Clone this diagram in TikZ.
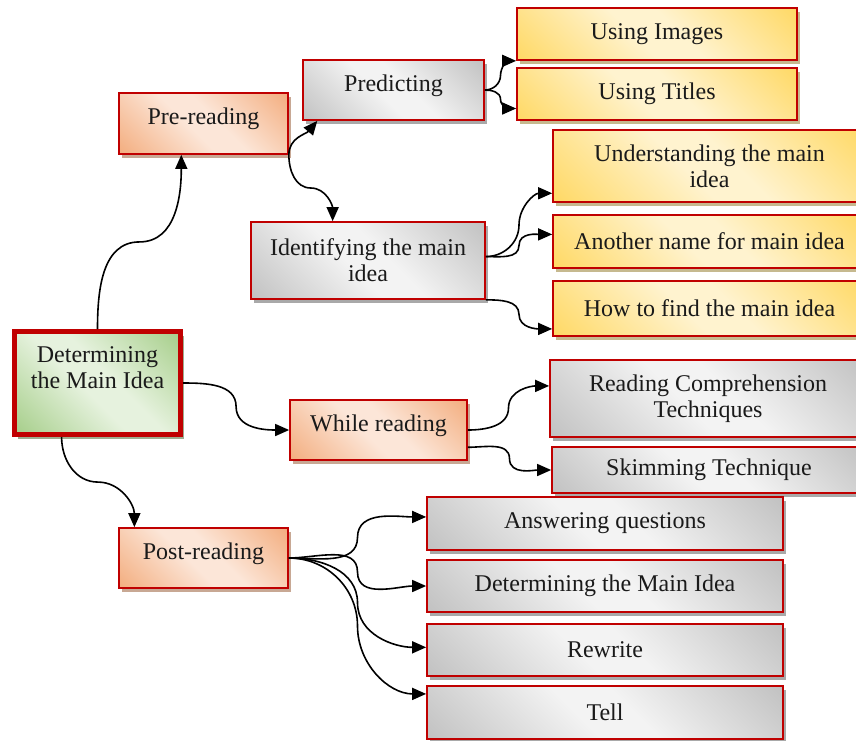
\documentclass[tikz,border=0pt]{standalone}
\usepackage{fontspec}
\setmainfont{Liberation Serif}
\usetikzlibrary{shadows,arrows.meta,calc}
\definecolor{bred}{HTML}{C00000}
\definecolor{txt}{HTML}{1A1A1A}
\definecolor{gdk}{HTML}{C2C2C2}
\definecolor{glt}{HTML}{F3F3F3}
\definecolor{ydk}{HTML}{FFD966}
\definecolor{ylt}{HTML}{FFF3CF}
\definecolor{odk}{HTML}{F3AE80}
\definecolor{olt}{HTML}{FCE6D8}
\definecolor{vdk}{HTML}{A6CE8A}
\definecolor{vlt}{HTML}{E6F2DE}
\definecolor{shg}{HTML}{A9A9A9}
\definecolor{shy}{HTML}{C6B98F}
\definecolor{sho}{HTML}{C8A894}
\definecolor{shv}{HTML}{9EAD90}
\pgfdeclarehorizontalshading{grayshade}{100bp}{color(0bp)=(gdk); color(15bp)=(gdk); color(45bp)=(glt); color(55bp)=(glt); color(85bp)=(gdk); color(100bp)=(gdk)}
\pgfdeclarehorizontalshading{yellowshade}{100bp}{color(0bp)=(ydk); color(15bp)=(ydk); color(45bp)=(ylt); color(55bp)=(ylt); color(85bp)=(ydk); color(100bp)=(ydk)}
\pgfdeclarehorizontalshading{orangeshade}{100bp}{color(0bp)=(odk); color(15bp)=(odk); color(45bp)=(olt); color(55bp)=(olt); color(85bp)=(odk); color(100bp)=(odk)}
\pgfdeclarehorizontalshading{greenshade}{100bp}{color(0bp)=(vdk); color(15bp)=(vdk); color(45bp)=(vlt); color(55bp)=(vlt); color(85bp)=(vdk); color(100bp)=(vdk)}
\tikzset{
  box/.style={draw=bred, line width=1.7pt, rectangle, shading angle=45, text=txt,
    font=\fontsize{24}{26}\selectfont, align=center, inner sep=2pt},
  one/.style={text height=0.72em, text depth=0.45em},
  gbox/.style={box, shading=grayshade, drop shadow={shadow xshift=3pt, shadow yshift=-4pt, fill=shg, opacity=1}},
  ybox/.style={box, shading=yellowshade, drop shadow={shadow xshift=3pt, shadow yshift=-4pt, fill=shy, opacity=1}},
  obox/.style={box, shading=orangeshade, drop shadow={shadow xshift=3pt, shadow yshift=-4pt, fill=sho, opacity=1}},
  mbox/.style={box, line width=5pt, shading=greenshade, drop shadow={shadow xshift=3pt, shadow yshift=-4pt, fill=shv, opacity=1}},
  conn/.style={line width=1.6pt, draw=black, -{Triangle[length=14pt,width=12pt]}}
}
\begin{document}
\begin{tikzpicture}[x=1pt,y=-1pt]
\useasboundingbox (0,0) rectangle (856,740);
% nodes
\node[mbox, minimum width=166pt, minimum height=103pt] (main) at (97.5,383) {\raisebox{6pt}[0pt][0pt]{\begin{tabular}{@{}c@{}}Determining\\the Main Idea\end{tabular}}};
\node[obox, one, minimum width=169pt, minimum height=61pt] (pre) at (203.5,123.5) {Pre-reading};
\node[gbox, one, minimum width=181pt, minimum height=60pt] (pred) at (393.5,90) {Predicting};
\node[ybox, minimum width=280pt, minimum height=52pt] (img) at (657,34) {Using Images};
\node[ybox, minimum width=280pt, minimum height=52pt] (tit) at (657,94) {Using Titles};
\node[gbox, minimum width=234pt, minimum height=77pt] (ident) at (368,260.5) {Identifying the main\\idea};
\node[ybox, minimum width=313pt, minimum height=72pt] (und) at (709.5,166) {Understanding the main\\idea};
\node[ybox, minimum width=313pt, minimum height=53pt] (ano) at (709.5,241.5) {Another name for main idea};
\node[ybox, minimum width=313pt, minimum height=55pt] (how) at (709.5,308.5) {How to find the main idea};
\node[obox, one, minimum width=177pt, minimum height=60pt] (while) at (378.5,430) {While reading};
\node[gbox, minimum width=316pt, minimum height=77pt] (rct) at (708,398.5) {Reading Comprehension\\Techniques};
\node[gbox, minimum width=314pt, minimum height=46pt] (skim) at (709,470) {Skimming Technique};
\node[obox, one, minimum width=169pt, minimum height=60pt] (post) at (203.5,558) {Post-reading};
\node[gbox, minimum width=356pt, minimum height=53pt] (ans) at (605,523.5) {Answering questions};
\node[gbox, minimum width=356pt, minimum height=52pt] (det) at (605,586) {Determining the Main Idea};
\node[gbox, minimum width=356pt, minimum height=52pt] (rew) at (605,650) {Rewrite};
\node[gbox, minimum width=356pt, minimum height=53pt] (tell) at (605,712.5) {Tell};
% connection points
\coordinate (mainS) at ($(main.south west)!0.29!(main.south east)$);
\coordinate (preB) at ($(pre.south west)!0.37!(pre.south east)$);
\coordinate (postN) at ($(post.north west)!0.095!(post.north east)$);
\coordinate (predB) at ($(pred.south west)!0.05!(pred.south east)$);
\coordinate (identN) at ($(ident.north west)!0.35!(ident.north east)$);
\coordinate (titW) at ($(tit.north west)!0.77!(tit.south west)$);
\coordinate (identE) at ($(ident.north east)!0.45!(ident.south east)$);
\coordinate (undW) at ($(und.north west)!0.87!(und.south west)$);
\coordinate (anoW) at ($(ano.north west)!0.37!(ano.south west)$);
\coordinate (howW) at ($(how.north west)!0.86!(how.south west)$);
\coordinate (whileE2) at ($(while.north east)!0.78!(while.south east)$);
\coordinate (rctW) at ($(rct.north west)!0.34!(rct.south west)$);
\coordinate (ansW) at ($(ans.north west)!0.38!(ans.south west)$);
\coordinate (rewW) at ($(rew.north west)!0.45!(rew.south west)$);
\coordinate (tellW) at ($(tell.north west)!0.16!(tell.south west)$);
% connectors
\draw[conn] (main.north) to[out=90,in=180] ($(main.north)!0.5!(preB)$) to[out=0,in=-90] (preB);
\draw[conn] (main.east) to[out=0,in=90] ($(main.east)!0.5!(while.west)$) to[out=-90,in=180] (while.west);
\draw[conn] (mainS) to[out=-90,in=180] ($(mainS)!0.5!(postN)$) to[out=0,in=90] (postN);
\draw[conn] (pre.south east) to[out=90,in=-130] ($(predB)+(6,0)$);
\draw[conn] (pre.south east) to[out=-90,in=180] ($(pre.south east)!0.5!(identN)$) to[out=0,in=90] (identN);
\draw[conn] (pred.east) to[out=0,in=-90] ($(pred.east)!0.5!(img.south west)$) to[out=90,in=180] (img.south west);
\draw[conn] (pred.east) to[out=0,in=90] ($(pred.east)!0.5!(titW)$) to[out=-90,in=180] (titW);
\draw[conn] (identE) to[out=0,in=-90] ($(identE)!0.5!(undW)$) to[out=90,in=180] (undW);
\draw[conn] (identE) to[out=0,in=-90] ($(identE)!0.5!(anoW)$) to[out=90,in=180] (anoW);
\draw[conn] (ident.south east) to[out=0,in=90] ($(ident.south east)!0.5!(howW)$) to[out=-90,in=180] (howW);
\draw[conn] (while.east) to[out=0,in=-90] ($(while.east)!0.5!(rctW)$) to[out=90,in=180] (rctW);
\draw[conn] (whileE2) to[out=0,in=90] ($(whileE2)!0.5!(skim.west)$) to[out=-90,in=180] (skim.west);
\draw[conn] (post.east) to[out=0,in=-90] ($(post.east)!0.5!(ansW)$) to[out=90,in=180] (ansW);
\draw[conn] (post.east) to[out=0,in=90] ($(post.east)!0.5!(det.west)$) to[out=-90,in=180] (det.west);
\draw[conn] (post.east) to[out=0,in=90] ($(post.east)!0.5!(rewW)$) to[out=-90,in=180] (rewW);
\draw[conn] (post.east) to[out=0,in=90] ($(post.east)!0.5!(tellW)$) to[out=-90,in=180] (tellW);
\end{tikzpicture}
\end{document}
